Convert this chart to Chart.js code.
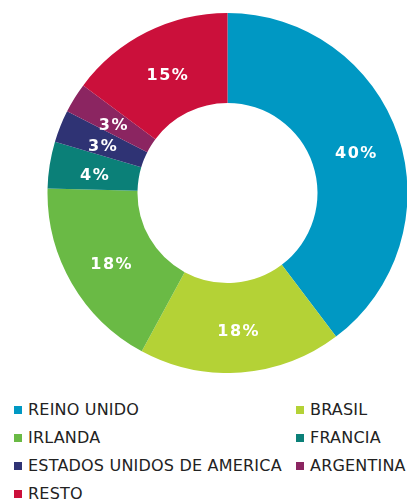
<!DOCTYPE html>
<html>
<head>
<meta charset="utf-8">
<script src="https://cdn.jsdelivr.net/npm/chart.js@4.4.1/dist/chart.umd.min.js"></script>
<style>
    html, body {
        margin: 0;
        padding: 0;
        width: 407px;
        height: 503px;
        overflow: hidden;
        background: #ffffff;
        font-family: "DejaVu Sans", Verdana, sans-serif;
    }
    .chart-box {
        position: absolute;
        left: 47px;
        top: 13px;
        width: 361px;
        height: 360px;
    }
    .legend {
        position: absolute;
        left: 0;
        top: 396px;
        width: 407px;
    }
    .legend-item {
        position: absolute;
        height: 28px;
        line-height: 28px;
        font-size: 16px;
        letter-spacing: 0.2px;
        color: #222222;
        white-space: nowrap;
    }
    .legend-item .box {
        display: inline-block;
        width: 8px;
        height: 8px;
        margin-right: 6px;
        vertical-align: 1px;
    }
</style>
</head>
<body>
<div class="chart-box"><canvas id="donutChart"></canvas></div>
<div class="legend" id="legend"></div>

<script>
// Data
const countries = ['REINO UNIDO', 'BRASIL', 'IRLANDA', 'FRANCIA', 'ESTADOS UNIDOS DE AMERICA', 'ARGENTINA', 'RESTO'];
const shares = [39.7, 18.2, 17.5, 4.2, 2.9, 2.7, 14.8];
const colors = ['#0098C3', '#B4D236', '#6ABA45', '#0B8078', '#2F3374', '#8B2561', '#CB103B'];

// Percentage labels drawn in the middle of each slice
const sliceLabels = {
    id: 'sliceLabels',
    afterDatasetsDraw(chart) {
        const ctx = chart.ctx;
        const meta = chart.getDatasetMeta(0);
        ctx.save();
        ctx.font = 'bold 16px "DejaVu Sans", Verdana, sans-serif';
        ctx.letterSpacing = '1.5px';
        ctx.fillStyle = '#ffffff';
        ctx.textAlign = 'center';
        ctx.textBaseline = 'middle';
        meta.data.forEach((arc, i) => {
            const pos = arc.tooltipPosition();
            ctx.fillText(Math.round(shares[i]) + '%', pos.x + 1, pos.y + 4);
        });
        ctx.restore();
    }
};

const donutCtx = document.getElementById('donutChart').getContext('2d');
const donutChart = new Chart(donutCtx, {
    type: 'doughnut',
    data: {
        labels: countries,
        datasets: [{
            data: shares,
            backgroundColor: colors,
            borderWidth: 0
        }]
    },
    options: {
        responsive: true,
        maintainAspectRatio: false,
        animation: false,
        cutout: '50%',
        layout: { padding: 0 },
        plugins: {
            legend: { display: false },
            tooltip: { enabled: false }
        }
    },
    plugins: [sliceLabels]
});

// Legend in two columns
const legendEl = document.getElementById('legend');
countries.forEach((name, i) => {
    const item = document.createElement('div');
    item.className = 'legend-item';
    item.style.left = (i % 2 === 0 ? 14 : 296) + 'px';
    item.style.top = (Math.floor(i / 2) * 28) + 'px';
    item.innerHTML = `<span class="box" style="background:${colors[i]}"></span>${name}`;
    legendEl.appendChild(item);
});
</script>
</body>
</html>
